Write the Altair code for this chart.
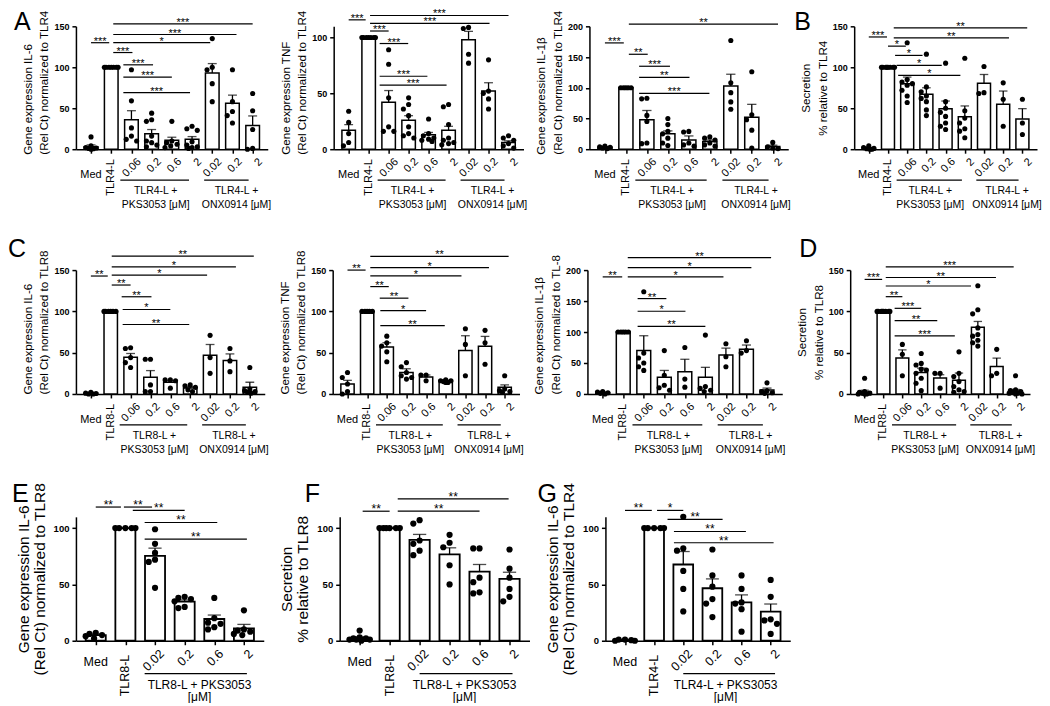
import altair as alt
import pandas as pd

FONT = "Liberation Sans"

# ---------------- category labels ----------------
LAB_A = ["Med", "TLR4-L", "0.06", "0.2", "0.6", "2", "0.02", "0.2", "2"]
LAB_C = ["Med", "TLR8-L", "0.06", "0.2", "0.6", "2", "0.02", "0.2", "2"]
LAB_EF = ["Med", "TLR8-L", "0.02", "0.2", "0.6", "2"]
LAB_G = ["Med", "TLR4-L", "0.02", "0.2", "0.6", "2"]

TICKS_150 = [0, 50, 100, 150]
TICKS_200 = [0, 50, 100, 150, 200]
TICKS_100 = [0, 50, 100]

# group brackets: (line1, line2, from, to, text centre) in category units
GRP_TLR4 = [("TLR4-L +", "PKS3053 [μM]", 1.45, 4.85, 3.2), ("TLR4-L +", "ONX0914 [μM]", 5.6, 7.8, 7.2)]
GRP_TLR8 = [("TLR8-L +", "PKS3053 [μM]", 1.45, 4.85, 3.2), ("TLR8-L +", "ONX0914 [μM]", 5.6, 7.8, 7.2)]
GRP_E = [("TLR8-L + PKS3053", "[μM]", 1.65, 5.1, 3.5)]
GRP_F = [("TLR8-L + PKS3053", "[μM]", 2.0, 5.1, 3.5)]
GRP_G = [("TLR4-L + PKS3053", "[μM]", 2.0, 5.15, 3.45)]

# ---------------- A: IL-6 TLR4 ----------------
A1_BAR = [3, 100, 36, 19, 11, 12, 93, 56, 29]
A1_SEM = [2.2, 0, 11, 5, 3.6, 3.4, 11.5, 10, 11.6]
A1_PTS = [[15, 4, 2, 1.5, 1, 0.5, 0], [100] * 7, [97, 59, 26, 16, 12, 10],
          [44, 36, 34, 16, 10, 8, 5, 3], [34, 10, 8, 6, 4, 2], [28, 25, 23, 9, 5, 3, 2, 1],
          [135, 100, 97, 80, 58], [97, 58, 46, 41, 32], [68, 47, 24, 1, 0]]
A1_SIG = [(0, 0.9, 130, "***"), (1.1, 8, 153, "***"), (1.1, 7.2, 140, "***"), (1.1, 5.9, 130, "*"),
          (1.1, 2.05, 118, "***"), (1.6, 3.07, 103, "***"), (1.6, 4.0, 88, "***"), (1.6, 4.9, 69, "***")]

# ---------------- A: TNF TLR4 ----------------
A2_BAR = [17, 100, 42, 26, 13, 17, 98, 52, 6]
A2_SEM = [5, 0, 10.5, 4, 2, 3.5, 7.5, 7.5, 1.5]
A2_PTS = [[34, 24, 14, 6, 3], [100] * 7, [89, 76, 46, 20, 16, 16], [46, 40, 36, 30, 20, 14, 12, 10],
          [27, 14, 12, 10, 9, 8, 7], [40, 38, 22, 10, 8, 6, 5, 4], [109, 108, 85, 77],
          [80, 52, 50, 45, 36], [12, 10, 8, 5, 3, 1]]
A2_SIG = [(0, 0.85, 115.8, "***"), (1.07, 8.0, 119.7, "***"), (1.07, 7.05, 112.7, "***"), (1.07, 2.0, 105.8, "***"),
          (1.55, 2.98, 94.6, "***"), (1.55, 3.94, 65.3, "***"), (1.55, 4.9, 57.4, "***")]

# ---------------- A: IL-1b TLR4 ----------------
A3_BAR = [3, 100, 48, 25, 15, 12.5, 103, 52, 4.5]
A3_SEM = [1, 0, 15, 4.8, 6.6, 2.5, 19, 21, 2]
A3_PTS = [[5, 4, 3, 2, 1], [100] * 5, [83, 82, 55, 45, 10, 9], [50, 40, 29, 25, 18, 10, 6],
          [29, 28, 10, 7, 5], [20, 18, 15, 10, 7, 5], [177, 108, 92, 77, 65], [126, 56, 48, 31, 2], [11, 4, 2, 1]]
A3_SIG = [(0, 0.9, 173, "***"), (1.14, 8.25, 203.5, "**"), (1.14, 2.04, 154.5, "**"), (1.63, 3.1, 135, "***"),
          (1.63, 4.03, 116.8, "**"), (1.63, 4.98, 90.8, "***")]

# ---------------- B: secretion TLR4 ----------------
B_BAR = [1, 100, 80, 67, 49.5, 39.5, 80.5, 55, 37]
B_SEM = [0.8, 0, 8, 8, 9.3, 13.3, 10.7, 16, 12.5]
B_PTS = [[4, 2, 1, 0.5, 0, 0], [100] * 8, [130, 85, 82, 80, 78, 72, 65, 57], [116, 76, 70, 65, 62, 58, 48, 41],
         [105, 58, 50, 45, 40, 32, 28, 24], [111, 47, 38, 32, 25, 22, 14], [101, 69, 68], [81, 61, 28], [61, 32, 18]]
B_SIG = [(0, 0.95, 137, "***"), (1.3, 8.25, 148, "**"), (1.3, 7.3, 136, "**"), (1.0, 1.93, 125.8, "*"),
         (1.37, 2.8, 114.5, "*"), (1.45, 3.8, 102.3, "*"), (1.53, 4.77, 90, "*")]

# ---------------- C: IL-6 TLR8 ----------------
C1_BAR = [1, 100, 44.5, 20.2, 14.2, 7.3, 46.9, 40.5, 8.1]
C1_SEM = [0.4, 0, 4.5, 8.1, 2, 1.5, 13, 8, 6.1]
C1_PTS = [[2, 1, 0.5, 0, 0], [100] * 6, [56, 55, 44, 38, 32], [42, 42, 11, 3, 3], [17, 17, 16, 7],
          [11, 10, 8, 5, 3], [71, 44, 25], [55, 40, 27], [32, 6, 4, 3, 2, 1]]
C1_SIG = [(0, 0.85, 142.8, "**"), (1.05, 8.2, 167, "**"), (1.05, 7.3, 154, "*"), (1.05, 5.85, 144, "*"),
          (1.05, 2.0, 131.9, "**"), (1.55, 3.05, 117.7, "**"), (1.6, 4.0, 102.3, "*"), (1.6, 4.95, 84.1, "**")]

# ---------------- C: TNF TLR8 ----------------
C2_BAR = [12, 100, 57, 26, 20.5, 15.3, 52.5, 57.7, 8]
C2_SEM = [4.5, 0, 5, 4.5, 2.5, 1, 18, 12, 3]
C2_PTS = [[26, 20, 12, 3, 0], [100] * 5, [70, 62, 58, 51, 39], [38, 33, 26, 22, 20, 18], [23, 23, 16],
          [17, 16, 16, 15, 14, 14], [79, 60, 22], [77, 62, 36], [22, 6, 4, 3, 2]]
C2_SIG = [(0, 0.92, 150, "**"), (1.16, 8.2, 166.5, "**"), (1.16, 7.2, 153, "*"), (1.16, 5.8, 143, "*"),
          (1.16, 2.1, 130, "**"), (1.64, 3.1, 116, "**"), (1.67, 4.0, 100.8, "*"), (1.67, 4.95, 82.7, "**")]

# ---------------- C: IL-1b TLR8 ----------------
C3_BAR = [2, 100, 70, 27, 36, 27, 63, 72, 6.5]
C3_SEM = [1, 0, 24, 11, 20, 16, 11, 7, 3]
C3_PTS = [[4, 3, 2, 1, 0], [100] * 5, [165, 66, 58, 50, 44, 38], [70, 30, 14, 10, 6], [75, 24, 11],
          [95, 12, 9, 6, 4], [81, 60, 44], [86, 70, 66], [18, 5, 4, 2, 1]]
C3_SIG = [(0, 0.95, 189, "**"), (1.22, 8.2, 220, "**"), (1.22, 7.24, 204, "*"), (1.22, 5.88, 189, "*"),
          (1.7, 3.1, 154, "**"), (1.7, 4.03, 133.5, "*"), (1.7, 5.0, 109, "**")]

# ---------------- D: secretion TLR8 ----------------
D_BAR = [2.5, 100, 43.5, 26, 19.3, 16.5, 80.8, 33.4, 3.5]
D_SEM = [2, 0, 10, 5.3, 4, 8.8, 7, 10, 2]
D_PTS = [[19, 3, 2, 1, 1, 0, 0, 0], [100] * 8, [60, 48, 22], [49, 37, 35, 30, 29, 25, 19, 13, 4], [25, 25, 7],
         [51, 25, 21, 15, 9, 5, 3, 2], [131, 102, 97, 80, 72, 70, 65, 62, 58], [54, 25, 22],
         [22, 5, 4, 3, 2, 1, 1, 0, 0]]
D_SIG = [(0, 0.93, 138.7, "***"), (1.12, 7.9, 154, "***"), (1.12, 6.96, 141, "**"), (1.12, 5.64, 130.7, "*"),
         (1.12, 2.0, 117.8, "**"), (1.59, 3.0, 103.7, "***"), (1.59, 3.85, 88.9, "**"), (1.59, 4.78, 70.4, "***")]

# ---------------- E: IL-6 TLR8 ----------------
E_BAR = [5, 100, 75.4, 34.7, 19.3, 11]
E_SEM = [1, 0, 6.8, 1.5, 3.5, 3.5]
E_PTS = [[7, 6, 5, 4, 2], [100] * 5, [99, 86, 78, 72, 70, 47], [39, 38, 37, 35, 30, 29],
         [38, 20, 16, 15, 12, 10], [27, 10, 9, 8, 6, 5]]
E_SIG = [(0, 0.85, 118.7, "**"), (0.95, 1.9, 118.7, "**"), (1.25, 3.0, 115.7, "**"), (1.65, 4.1, 105, "**"),
         (1.65, 5.1, 90.2, "**")]

# ---------------- F: secretion TLR8 ----------------
F_BAR = [2.4, 100, 89.6, 76.6, 61.4, 54.9]
F_SEM = [1, 0, 4.8, 5.9, 6.3, 5.9]
F_PTS = [[9, 3, 2, 2, 1, 1, 1, 0], [100] * 6, [107, 104, 89, 86, 80, 76], [94, 87, 83, 67, 50],
         [82, 82, 56, 52, 43, 42], [81, 64, 56, 46, 39, 35]]
F_SIG = [(0.1, 1.0, 115, "**"), (1.27, 4.97, 126, "**"), (1.27, 4.0, 115, "**")]

# ---------------- G: IL-6 TLR4 ----------------
G_BAR = [0.5, 100, 67.7, 46.6, 34.1, 25.8]
G_SEM = [0.3, 0, 11.5, 8.3, 6.6, 6.8]
G_PTS = [[1, 1, 0.5, 0, 0], [100] * 5, [110, 82, 80, 62, 46, 26], [81, 58, 48, 37, 33, 21],
         [58, 46, 34, 33, 28, 8], [54, 39, 19, 18, 15, 6]]
G_SIG = [(0, 0.92, 115.7, "**"), (1.1, 2.0, 115.7, "*"), (1.46, 3.35, 107.7, "**"), (1.68, 4.15, 97, "**"),
         (1.68, 5.1, 87, "**")]

# ---------------- styles ----------------
ROW12 = dict(tick_fs=9, title_fs=11.6, title_lh=16.5, title_pad=4, xlab_fs=11, grp_fs=10.5, star_fs=11,
             dot=5.8, bar_sw=1.5, med_dy=26, tlr_dy=10, num_dy=11, num_dx=8, gline_dy=31, g1_dy=42, g2_dy=56)
ROW3 = dict(tick_fs=9.5, title_fs=15.5, title_lh=16, title_pad=6, xlab_fs=12.5, grp_fs=12, star_fs=12,
            dot=7, bar_sw=1.8, med_dy=21, tlr_dy=14, num_dy=11, num_dx=7, gline_dy=33, g1_dy=44, g2_dy=56)


def swarm(vals, ppu, step, diam):
    """Deterministic beeswarm placement of the dots (pixel offsets -> category units)."""
    lim = 0.34 * step
    gap = diam * 0.95
    cands = [0.0]
    k = 1
    while k * gap <= lim + 0.01:
        cands += [-k * gap, k * gap]
        k += 1
    fine = [lim * (j / 6.0) for j in range(-6, 7)]
    order = sorted(range(len(vals)), key=lambda q: -vals[q])
    placed = []
    offs = [0.0] * len(vals)
    for q in order:
        y = vals[q] * ppu

        def mind(c):
            return min([((c - px) ** 2 + (y - py) ** 2) ** 0.5 for px, py in placed], default=1e9)

        best = None
        for c in cands:
            if mind(c) >= gap:
                best = c
                break
        if best is None:
            best = max(fine, key=lambda c: (round(mind(c), 3), -abs(c)))
        offs[q] = best / step
        placed.append((best, y))
    return offs


def panel(labels, bar, sem, pts, sig, groups, ymax, yticks, title, start_title, width, height, st,
          letter=None, title_drop=None):
    n = len(labels)
    step = width / n
    ppu = height / ymax
    xsc = alt.Scale(domain=[-0.5, n - 0.5], nice=False, zero=False)
    ysc = alt.Scale(domain=[0, ymax], nice=False, zero=True)
    xax = alt.Axis(values=list(range(n)), labels=False, title=None, grid=False, ticks=True, tickSize=4, domain=True)
    yargs = dict(values=yticks, title=title, grid=False, tickSize=4, labelPadding=3, labelFontSize=st["tick_fs"],
                 titleFontSize=st["title_fs"], titleLineHeight=st["title_lh"], titlePadding=st["title_pad"],
                 labelOverlap=False)
    if start_title:
        yargs.update(titleAnchor="start", titleAlign="left")
        if title_drop is not None:
            yargs.update(titleY=height + title_drop)
    yax = alt.Axis(**yargs)

    def X(f):
        return alt.X(f, type="quantitative", scale=xsc, axis=xax)

    def Y(f):
        return alt.Y(f, type="quantitative", scale=ysc, axis=yax)

    idx = list(range(n))
    bdf = pd.DataFrame({"i": idx, "m": bar, "t": [b + s for b, s in zip(bar, sem)], "s": sem})
    layers = []
    layers.append(alt.Chart(bdf).mark_bar(width=0.64 * step, fill="white", stroke="black",
                                          strokeWidth=st["bar_sw"]).encode(x=X("i"), y=Y("m")))
    edf = bdf[bdf.s > 0]
    layers.append(alt.Chart(edf).mark_rule(color="black", strokeWidth=1.3).encode(
        x=X("i"), y=Y("m"), y2=alt.Y2("t")))
    layers.append(alt.Chart(edf).mark_tick(orient="horizontal", color="black", size=0.42 * step,
                                           thickness=1.3).encode(x=X("i"), y=Y("t")))
    rows = []
    for i, vals in enumerate(pts):
        offs = swarm(vals, ppu, step, st["dot"])
        for v, o in zip(vals, offs):
            rows.append({"x": i + o, "v": v})
    dsize = 3.1416 * (st["dot"] / 2) ** 2
    layers.append(alt.Chart(pd.DataFrame(rows)).mark_circle(color="black", opacity=1, size=dsize).encode(
        x=X("x"), y=Y("v")))
    sdf = pd.DataFrame(sig, columns=["x1", "x2", "y", "lab"])
    sdf["xm"] = (sdf.x1 + sdf.x2) / 2
    layers.append(alt.Chart(sdf).mark_rule(color="black", strokeWidth=1.2).encode(
        x=X("x1"), x2=alt.X2("x2"), y=Y("y")))
    layers.append(alt.Chart(sdf).mark_text(fontSize=st["star_fs"], baseline="alphabetic", dy=2,
                                           color="black").encode(x=X("xm"), y=Y("y"), text="lab:N"))
    ldf = pd.DataFrame({"i": idx, "lab": labels})
    layers.append(alt.Chart(ldf.iloc[[0]]).mark_text(fontSize=st["xlab_fs"], align="center", baseline="middle",
                                                     color="black").encode(
        x=X("i"), y=alt.value(height + st["med_dy"]), text="lab:N"))
    layers.append(alt.Chart(ldf.iloc[[1]]).mark_text(fontSize=st["xlab_fs"], align="right",
                                                     baseline="middle", color="black").encode(
        x=X("i"), y=alt.value(height + st["tlr_dy"]), text="lab:N", angle=alt.value(270)))
    layers.append(alt.Chart(ldf.iloc[2:]).mark_text(fontSize=st["xlab_fs"], align="right",
                                                    baseline="middle", xOffset=st["num_dx"], color="black").encode(
        x=X("i"), y=alt.value(height + st["num_dy"]), text="lab:N", angle=alt.value(315)))
    gdf = pd.DataFrame(groups, columns=["l1", "l2", "a", "b", "c"])
    layers.append(alt.Chart(gdf).mark_rule(color="black", strokeWidth=1.2).encode(
        x=X("a"), x2=alt.X2("b"), y=alt.value(height + st["gline_dy"])))
    layers.append(alt.Chart(gdf).mark_text(fontSize=st["grp_fs"], baseline="middle", color="black").encode(
        x=X("c"), y=alt.value(height + st["g1_dy"]), text="l1:N"))
    layers.append(alt.Chart(gdf).mark_text(fontSize=st["grp_fs"], baseline="middle", color="black").encode(
        x=X("c"), y=alt.value(height + st["g2_dy"]), text="l2:N"))
    if letter:
        layers.append(alt.Chart(pd.DataFrame({"t": [letter[0]]})).mark_text(
            fontSize=25, align="left", baseline="alphabetic", color="black").encode(
            x=alt.value(letter[1]), y=alt.value(letter[2]), text="t:N"))
    return alt.layer(*layers).properties(width=width, height=height)


T4 = "(Rel Ct) normalized to TLR4"
T8 = "(Rel Ct) normalized to TLR8"

A1 = panel(LAB_A, A1_BAR, A1_SEM, A1_PTS, A1_SIG, GRP_TLR4, 150, TICKS_150,
           ["Gene expression IL-6", T4], True, 192, 123, ROW12, ("A", -62, 4), title_drop=5)
A2 = panel(LAB_A, A2_BAR, A2_SEM, A2_PTS, A2_SIG, GRP_TLR4, 110, TICKS_100,
           ["Gene expression TNF", T4], True, 190, 123, ROW12, title_drop=5)
A3 = panel(LAB_A, A3_BAR, A3_SEM, A3_PTS, A3_SIG, GRP_TLR4, 200, TICKS_200,
           ["Gene expression IL-1β", T4], True, 199, 123, ROW12, title_drop=5)
B = panel(LAB_A, B_BAR, B_SEM, B_PTS, B_SIG, GRP_TLR4, 150, TICKS_150,
          ["Secretion", "% relative to TLR4"], False, 183, 123, ROW12, ("B", -60, 4))

C1 = panel(LAB_C, C1_BAR, C1_SEM, C1_PTS, C1_SIG, GRP_TLR8, 150, TICKS_150,
           ["Gene expression IL-6", T8], True, 189, 124, ROW12, ("C", -68, -13))
C2 = panel(LAB_C, C2_BAR, C2_SEM, C2_PTS, C2_SIG, GRP_TLR8, 150, TICKS_150,
           ["Gene expression TNF", T8], True, 187, 124, ROW12)
C3 = panel(LAB_C, C3_BAR, C3_SEM, C3_PTS, C3_SIG, GRP_TLR8, 200, TICKS_200,
           ["Gene expression IL-1β", "(Rel Ct) normalized to TL-8"], True, 195, 124, ROW12)
D = panel(LAB_C, D_BAR, D_SEM, D_PTS, D_SIG, GRP_TLR8, 150, TICKS_150,
          ["Secretion", "% relative to TLR8"], False, 180, 124, ROW12, ("D", -51, -13))

E = panel(LAB_EF, E_BAR, E_SEM, E_PTS, E_SIG, GRP_E, 110, TICKS_100,
          ["Gene expression IL-6", T8], False, 188, 124, ROW3, ("E", -64, -15))
F = panel(LAB_EF, F_BAR, F_SEM, F_PTS, F_SIG, GRP_F, 110, TICKS_100,
          ["Secretion", "% relative to TLR8"], False, 190, 124, ROW3, ("F", -35, -15))
G = panel(LAB_G, G_BAR, G_SEM, G_PTS, G_SIG, GRP_G, 110, TICKS_100,
          ["Gene expression IL-6", T4], False, 185, 124, ROW3, ("G", -68, -15))

row1 = alt.hconcat(A1, A2, A3, B, spacing=66, bounds="flush")
row2 = alt.hconcat(C1, C2, C3, D, spacing=68, bounds="flush")
row3 = alt.hconcat(E, F, G, spacing=76, bounds="flush")

chart = alt.vconcat(row1, row2, row3, spacing=26).properties(
    padding={"left": 0, "top": 0, "right": 0, "bottom": 0}
).configure(font=FONT).configure_view(stroke=None).configure_axis(
    domainColor="black", domainWidth=1.5, tickColor="black", tickWidth=1.5,
    labelFont=FONT, labelFontWeight="bold", labelColor="black",
    titleFont=FONT, titleFontWeight="normal", titleColor="black", grid=False
)

chart.save("out.html", embed_options={"renderer": "svg", "actions": False})
